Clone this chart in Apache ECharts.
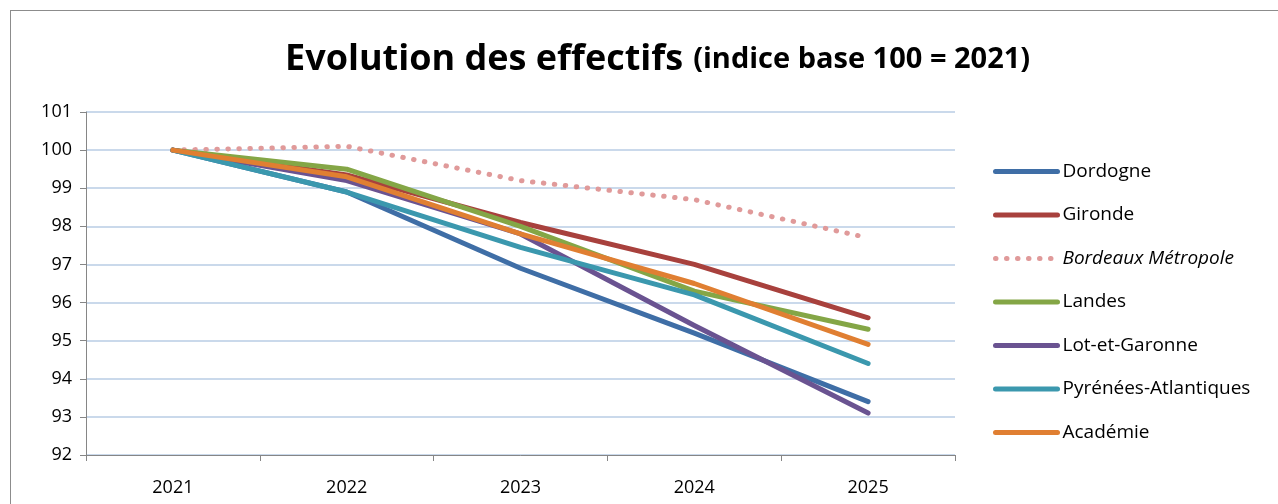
<!DOCTYPE html>
<html>
<head>
<meta charset="utf-8">
<script src="https://cdn.jsdelivr.net/npm/echarts@6/dist/echarts.min.js"></script>
<style>
  html, body { margin: 0; padding: 0; background: #fff; }
  #frame { position: absolute; left: 10px; top: 10px; width: 1300px; height: 520px; border: 1px solid #8c8c8c; }
  #main { position: absolute; left: 0; top: 0; width: 1278px; height: 504px; }
</style>
</head>
<body>
<div id="frame"></div>
<div id="main"></div>
<script>
  // years on the x axis
  var years = ['2021', '2022', '2023', '2024', '2025'];

  // index values (base 100 = 2021)
  var dordogne   = [100, 98.9, 96.9, 95.2, 93.4];
  var gironde    = [100, 99.35, 98.1, 97.0, 95.6];
  var bordeaux   = [100, 100.1, 99.2, 98.7, 97.7];
  var landes     = [100, 99.5, 98.0, 96.3, 95.3];
  var lotGaronne = [100, 99.2, 97.8, 95.4, 93.1];
  var pyrenees   = [100, 98.9, 97.45, 96.2, 94.4];
  var academie   = [100, 99.3, 97.8, 96.5, 94.9];

  var chart = echarts.init(document.getElementById('main'));

  function line(name, data, color, dotted) {
    return {
      name: name,
      type: 'line',
      data: data,
      symbol: 'none',
      smooth: false,
      lineStyle: dotted
        ? { color: color, width: 5, type: [0.5, 10.5], cap: 'round' }
        : { color: color, width: 5, cap: 'round', join: 'round' },
      itemStyle: { color: color }
    };
  }

  var option = {
    animation: false,
    title: {
      text: '{a|Evolution des effectifs}  {b|(indice base 100 = 2021)}',
      left: 280,
      top: 37,
      textStyle: {
        rich: {
          a: { fontFamily: 'Open Sans', fontWeight: 'bold', fontSize: 36, color: '#000' },
          b: { fontFamily: 'Open Sans', fontWeight: 'bold', fontSize: 29, color: '#000' }
        }
      }
    },
    legend: {
      orient: 'vertical',
      left: 988,
      top: 157,
      itemWidth: 62,
      itemHeight: 8,
      itemGap: 24.5,
      itemStyle: { opacity: 0 },
      lineStyle: { width: 5, cap: 'round' },
      formatter: function (name) {
        return name === 'Bordeaux Métropole' ? '{i|' + name + '}' : name;
      },
      textStyle: {
        fontFamily: 'Open Sans', fontSize: 19, color: '#000',
        rich: { i: { fontFamily: 'Open Sans', fontSize: 19, fontStyle: 'italic', color: '#000' } }
      }
    },
    grid: { left: 86, right: 323, top: 112, bottom: 49 },
    xAxis: {
      type: 'category',
      data: years,
      boundaryGap: true,
      axisLine: { lineStyle: { color: '#868686', width: 1 } },
      axisTick: { show: true, length: 6, lineStyle: { color: '#868686' } },
      axisLabel: { fontFamily: 'Open Sans', fontSize: 18, color: '#000', margin: 24 }
    },
    yAxis: {
      type: 'value',
      min: 92,
      max: 101,
      interval: 1,
      axisLine: { show: true, lineStyle: { color: '#868686', width: 1 } },
      axisTick: { show: true, length: 6, lineStyle: { color: '#868686' } },
      axisLabel: { fontFamily: 'Open Sans', fontSize: 18, color: '#000', margin: 14 },
      splitLine: { lineStyle: { color: '#b9cde5', width: 1.5 } }
    },
    series: [
      line('Dordogne', dordogne, '#3f6ea6'),
      line('Gironde', gironde, '#a8413d'),
      line('Bordeaux Métropole', bordeaux, '#e09a9a', true),
      line('Landes', landes, '#84a646'),
      line('Lot-et-Garonne', lotGaronne, '#6a5391'),
      line('Pyrénées-Atlantiques', pyrenees, '#3b98ae'),
      line('Académie', academie, '#e07f32')
    ]
  };

  chart.setOption(option);
</script>
</body>
</html>
